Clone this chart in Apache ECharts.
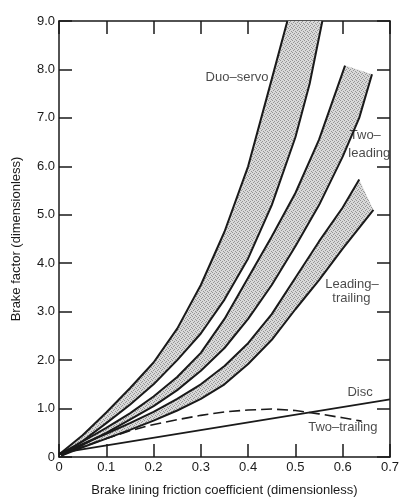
<!DOCTYPE html>
<html>
<head>
<meta charset="utf-8">
<script src="https://cdn.jsdelivr.net/npm/echarts@6/dist/echarts.min.js"></script>
<style>
  html, body { margin: 0; padding: 0; background: #fff; }
  #chart { width: 402px; height: 502px; }
</style>
</head>
<body>
<div id="chart"></div>
<script>
// [friction coefficient, brake factor], one list per edge of each band
const duoServoUpper = [[0, 0.05], [0.05, 0.45], [0.1, 0.92], [0.15, 1.42], [0.2, 1.95], [0.25, 2.65], [0.3, 3.55], [0.35, 4.65], [0.4, 6.0], [0.45, 7.8], [0.483, 9.0]]
const duoServoLower = [[0.005, 0.03], [0.05, 0.33], [0.1, 0.7], [0.15, 1.08], [0.2, 1.5], [0.25, 2.0], [0.3, 2.55], [0.35, 3.25], [0.4, 4.1], [0.45, 5.2], [0.5, 6.6], [0.53, 7.7], [0.557, 9.0]]
const twoLeadingUpper = [[0, 0.05], [0.05, 0.32], [0.1, 0.6], [0.15, 0.9], [0.2, 1.25], [0.25, 1.65], [0.3, 2.15], [0.35, 2.85], [0.4, 3.7], [0.45, 4.55], [0.5, 5.45], [0.55, 6.55], [0.605, 8.08]]
const twoLeadingLower = [[0.005, 0.03], [0.05, 0.25], [0.1, 0.5], [0.15, 0.77], [0.2, 1.05], [0.25, 1.38], [0.3, 1.78], [0.35, 2.25], [0.4, 2.85], [0.45, 3.55], [0.5, 4.35], [0.55, 5.2], [0.6, 6.2], [0.635, 7.0], [0.662, 7.9]]
const leadTrailUpper = [[0, 0.05], [0.05, 0.27], [0.1, 0.48], [0.15, 0.7], [0.2, 0.93], [0.25, 1.2], [0.3, 1.5], [0.35, 1.88], [0.4, 2.35], [0.45, 2.95], [0.5, 3.7], [0.55, 4.45], [0.6, 5.15], [0.635, 5.73]]
const leadTrailLower = [[0.005, 0.03], [0.05, 0.2], [0.1, 0.38], [0.15, 0.56], [0.2, 0.75], [0.25, 0.96], [0.3, 1.2], [0.35, 1.5], [0.4, 1.92], [0.45, 2.42], [0.5, 3.05], [0.55, 3.65], [0.6, 4.3], [0.665, 5.1]]
const disc = [[0, 0.08], [0.7, 1.19]]
const twoTrailing = [[0, 0.05], [0.05, 0.21], [0.1, 0.38], [0.15, 0.54], [0.19, 0.65], [0.25, 0.77], [0.3, 0.86], [0.35, 0.93], [0.4, 0.97], [0.45, 0.99], [0.5, 0.96], [0.55, 0.89], [0.6, 0.81], [0.64, 0.74]]

const xTickLabels = ['0', '0.1', '0.2', '0.3', '0.4', '0.5', '0.6', '0.7']
const yTickLabels = ['0', '1.0', '2.0', '3.0', '4.0', '5.0', '6.0', '7.0', '8.0', '9.0']

// curve names written inside the plot: [x, y, text]
const curveNotes = [
  [0.31, 7.84, 'Duo–servo'],
  [0.615, 6.63, 'Two–'],
  [0.612, 6.27, 'leading'],
  [0.563, 3.57, 'Leading–'],
  [0.578, 3.27, 'trailing'],
  [0.61, 1.33, 'Disc'],
  [0.527, 0.61, 'Two–trailing']
]

const ink = '#1a1a1a'
const font = 'Liberation Sans'

// small stipple tile for the shaded bands
const tile = document.createElement('canvas')
tile.width = 4
tile.height = 4
const tctx = tile.getContext('2d')
tctx.fillStyle = '#d9d9d9'
tctx.fillRect(0, 0, 4, 4)
tctx.fillStyle = '#959595'
tctx.fillRect(0, 0, 1, 1)
tctx.fillRect(2, 1, 1, 1)
tctx.fillRect(1, 2, 1, 1)
tctx.fillRect(3, 3, 1, 1)

const chart = echarts.init(document.getElementById('chart'))

// shaded band between two edges, closed through the library's coordinates
function band(upper, lower) {
  return {
    type: 'custom',
    silent: true,
    data: [[0, 0]],
    renderItem: function (params, api) {
      const pts = upper.concat(lower.slice().reverse()).map(p => api.coord(p))
      return { type: 'polygon', shape: { points: pts }, style: { fill: { image: tile, repeat: 'repeat' } } }
    },
    z: 1
  }
}

function edge(data) {
  return {
    type: 'line',
    data: data,
    showSymbol: false,
    lineStyle: { color: ink, width: 2 },
    z: 3
  }
}

const frameAxis = {
  min: 0,
  axisLine: { show: true, onZero: false, lineStyle: { color: ink, width: 1.5 } },
  axisTick: { show: true, inside: true, length: 13, lineStyle: { color: ink, width: 1.5 } },
  splitLine: { show: false }
}

chart.setOption({
  backgroundColor: '#fff',
  animation: false,
  grid: { left: 59, right: 8, top: 21, bottom: 40 },
  xAxis: [
    Object.assign({}, frameAxis, {
      type: 'value', position: 'bottom', max: 0.7, interval: 0.1,
      name: 'Brake lining friction coefficient (dimensionless)',
      nameLocation: 'middle', nameGap: 27,
      nameTextStyle: { fontFamily: font, fontSize: 13, color: ink },
      axisLabel: {
        margin: 4, fontFamily: font, fontSize: 13, color: ink,
        formatter: v => xTickLabels[Math.round(v * 10)]
      }
    }),
    Object.assign({}, frameAxis, {
      type: 'value', position: 'top', max: 0.7, interval: 0.1,
      axisLabel: { show: false }
    })
  ],
  yAxis: [
    Object.assign({}, frameAxis, {
      type: 'value', position: 'left', max: 9, interval: 1,
      name: 'Brake factor (dimensionless)',
      nameLocation: 'middle', nameGap: 36,
      nameTextStyle: { fontFamily: font, fontSize: 13, color: ink },
      axisLabel: {
        margin: 4, fontFamily: font, fontSize: 13, color: ink,
        formatter: v => yTickLabels[Math.round(v)]
      }
    }),
    Object.assign({}, frameAxis, {
      type: 'value', position: 'right', max: 9, interval: 1,
      axisLabel: { show: false }
    })
  ],
  series: [
    band(duoServoUpper, duoServoLower),
    band(twoLeadingUpper, twoLeadingLower),
    band(leadTrailUpper, leadTrailLower),
    edge(duoServoUpper),
    edge(duoServoLower),
    edge(twoLeadingUpper),
    edge(twoLeadingLower),
    edge(leadTrailUpper),
    edge(leadTrailLower),
    {
      name: 'Disc',
      type: 'line',
      data: disc,
      showSymbol: false,
      lineStyle: { color: ink, width: 1.8 },
      z: 3
    },
    {
      name: 'Two-trailing',
      type: 'line',
      data: twoTrailing,
      showSymbol: false,
      lineStyle: { color: ink, width: 1.6, type: [11, 5] },
      z: 3
    },
    {
      type: 'scatter',
      data: curveNotes,
      symbolSize: 0,
      silent: true,
      label: {
        show: true, position: 'right', distance: 0,
        fontFamily: font, fontSize: 13, color: ink,
        formatter: p => p.data[2]
      },
      z: 4
    }
  ]
})
</script>
</body>
</html>
